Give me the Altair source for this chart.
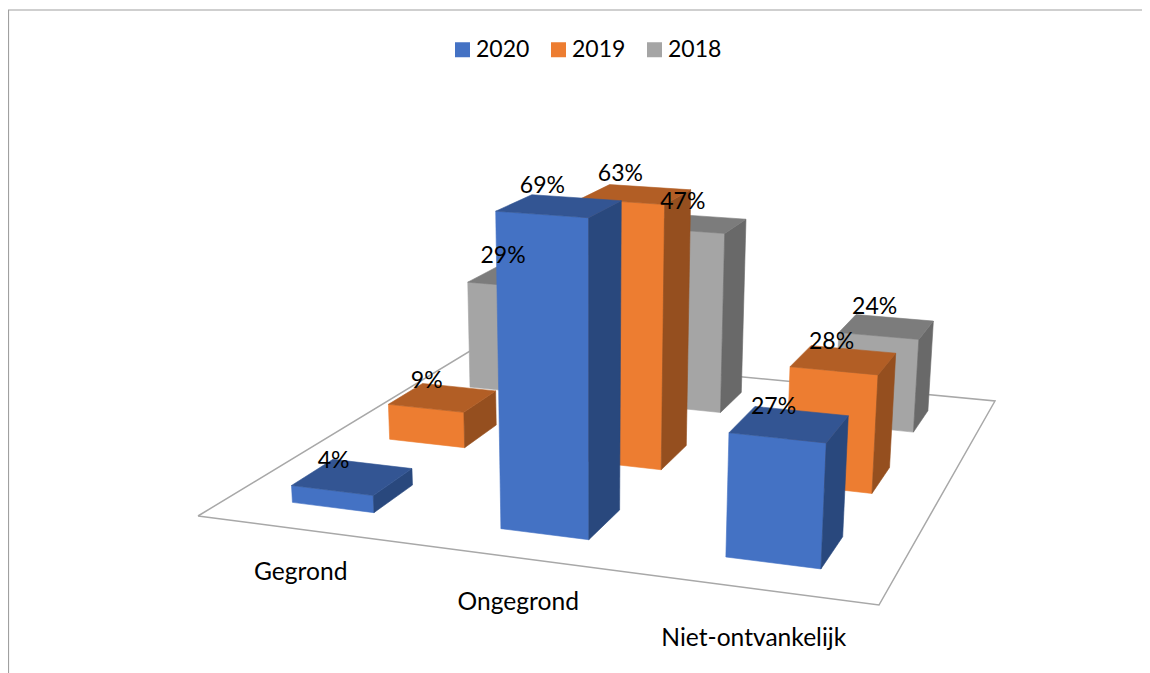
import altair as alt

# ---- chart values ----
categories = ["Gegrond", "Ongegrond", "Niet-ontvankelijk"]
series = ["2020", "2019", "2018"]
values_2020 = [4, 69, 27]
values_2019 = [9, 63, 28]
values_2018 = [29, 47, 24]
values = [values_2020, values_2019, values_2018]

front_colors = ["#4472C4", "#ED7D31", "#A5A5A5"]
top_colors = ["#335593", "#B25E25", "#7C7C7C"]
side_colors = ["#29487D", "#954F1F", "#696969"]

FONT = "Lato"
FS = 23
FS_CAT = 24.6

# ---- perspective camera of the 3-D scene (floor square u,v and height t in %) ----
A, B, D, C_, E, F = 582.3, 423.3, 198.0, 21.08, -52.0, 516.0
G, H = -0.11227, 0.32195
P, R, Q = -0.4616, -4.69, -0.000782


def project(u, v, t=0.0):
    w = G * u + H * v + 1 + Q * t
    return (A * u + B * v + D + P * t) / w, (C_ * u + E * v + F + R * t) / w


CELL = 1 / 3
INSET = 0.1
BAR = CELL - 2 * INSET

rows = []
fid = 0


def add_face(key, corners):
    global fid
    fid += 1
    pts = list(corners) + [corners[0]]
    for k, (u, v, t) in enumerate(pts):
        x, y = project(u, v, t)
        rows.append({"x": x, "y": y, "k": k, "face": fid, "key": key})


# back row first, so nearer bars paint over farther ones
for j in [2, 1, 0]:
    for i in range(3):
        t = values[j][i]
        u0, u1 = i * CELL + INSET, i * CELL + INSET + BAR
        v0, v1 = j * CELL + INSET, j * CELL + INSET + BAR
        s = series[j]
        add_face(s, [(u0, v0, 0), (u1, v0, 0), (u1, v0, t), (u0, v0, t)])
        add_face(s + " side", [(u1, v0, 0), (u1, v1, 0), (u1, v1, t), (u1, v0, t)])
        add_face(s + " top", [(u0, v0, t), (u1, v0, t), (u1, v1, t), (u0, v1, t)])

domain = series + [s + " side" for s in series] + [s + " top" for s in series]
color_range = front_colors + side_colors + top_colors

# page coordinates are used for the scene scales
x_scale = alt.Scale(domain=[8, 1142], range=[0, 1134], nice=False, zero=False)
y_scale = alt.Scale(domain=[8, 673], range=[0, 665], nice=False, zero=False)
X = alt.X("x:Q", scale=x_scale, axis=None)
Y = alt.Y("y:Q", scale=y_scale, axis=None)

# floor
floor_pts = [(0, 0), (1, 0), (1, 1), (0, 1), (0, 0)]
floor_rows = [
    {"x": project(u, v)[0], "y": project(u, v)[1], "k": k}
    for k, (u, v) in enumerate(floor_pts)
]
floor = (
    alt.Chart(alt.Data(values=floor_rows))
    .mark_line(stroke="#A8A8A8", strokeWidth=1.5, clip=False)
    .encode(x=X, y=Y, order=alt.Order("k:Q"))
)

# frame
frame_rows = [{"x": 8.5, "y": 673, "k": 0}, {"x": 8.5, "y": 10, "k": 1}, {"x": 1142, "y": 10, "k": 2}]
frame = (
    alt.Chart(alt.Data(values=frame_rows))
    .mark_line(stroke="#A0A0A0", strokeWidth=1.2)
    .encode(x=X, y=Y, order=alt.Order("k:Q"))
)

# bar faces
faces = (
    alt.Chart(alt.Data(values=rows))
    .mark_line(strokeWidth=0.6, strokeJoin="round")
    .encode(
        x=X,
        y=Y,
        order=alt.Order("k:Q"),
        detail="face:N",
        fill=alt.Fill(
            "key:N",
            scale=alt.Scale(domain=domain, range=color_range),
            legend=alt.Legend(
                values=series,
                title=None,
                orient="none",
                legendX=443,
                legendY=30,
                direction="horizontal",
                columns=3,
                symbolType="square",
                symbolSize=225,
                symbolStrokeWidth=0,
                labelFont=FONT,
                labelFontSize=FS,
                labelColor="#000000",
                labelOffset=2,
                columnPadding=17,
            ),
        ),
        stroke=alt.Stroke("key:N", scale=alt.Scale(domain=domain, range=color_range), legend=None),
    )
)

# value labels (placed relative to the centre of each bar's top, Excel had them nudged)
nudge_x = [[-19, -17, -16], [-16, -16, -12], [-14, -15, -12]]
nudge_y = [[-16, -20, -17], [-17, -20, -18], [-21, -22, -20]]
label_rows = []
for j in range(3):
    for i in range(3):
        t = values[j][i]
        cx, cy = project(i * CELL + CELL / 2, j * CELL + CELL / 2, t)
        label_rows.append({"x": cx + nudge_x[j][i], "y": cy + nudge_y[j][i], "text": f"{t}%"})
labels = (
    alt.Chart(alt.Data(values=label_rows))
    .mark_text(font=FONT, fontSize=FS, color="#000000", baseline="middle", align="center")
    .encode(x=X, y=Y, text="text:N")
)

# category labels, below the front edge of the floor
cat_drop = [44, 45, 50]
cat_rows = []
for i, c in enumerate(categories):
    cx, cy = project(i * CELL + CELL / 2, 0)
    cat_rows.append({"x": cx, "y": cy + cat_drop[i], "text": c})
cats = (
    alt.Chart(alt.Data(values=cat_rows))
    .mark_text(font=FONT, fontSize=FS_CAT, color="#000000", baseline="middle", align="center")
    .encode(x=X, y=Y, text="text:N")
)

# heading (runs off the top of the picture, as in the reference)
heading = (
    alt.Chart(alt.Data(values=[{"x": 10, "y": -4, "text": "Grafiek 7"}]))
    .mark_text(font=FONT, fontSize=FS, fontWeight="bold", color="#000000", baseline="middle", align="left")
    .encode(x=X, y=Y, text="text:N")
)

chart = (
    alt.layer(frame, heading, floor, faces, labels, cats)
    .properties(width=1134, height=665, padding=0, autosize=alt.AutoSizeParams(type="none"))
    .configure_view(stroke=None)
)

chart.save("out.html", embed_options={"renderer": "svg", "actions": False})
